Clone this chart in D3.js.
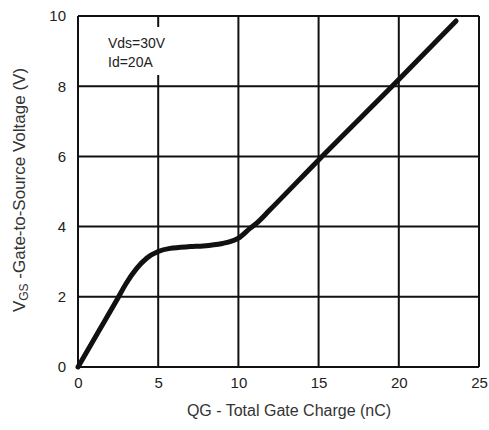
<!DOCTYPE html>
<html>
<head>
<meta charset="utf-8">
<script src="https://cdn.jsdelivr.net/npm/d3@7"></script>
<style>
  body { margin: 0; background: #fff; }
  text { font-family: "Liberation Sans", Arial, sans-serif; }
</style>
</head>
<body>
<div id="chart"></div>
<script>
// gate charge curve
var qg  = [0, 1.2, 2.41, 3.0, 3.66, 4.28, 5.0, 5.74, 7.0, 7.81, 9.0, 9.48, 10.0, 10.72, 11.14, 11.97, 15, 20, 23.57];
var vgs = [0, 0.95, 1.9, 2.38, 2.81, 3.10, 3.29, 3.38, 3.43, 3.45, 3.52, 3.57, 3.67, 3.95, 4.10, 4.48, 5.9, 8.19, 9.86];

var xTicks = [0, 5, 10, 15, 20, 25];
var yTicks = [0, 2, 4, 6, 8, 10];
var notes = ["Vds=30V", "Id=20A"];

var svgWidth = 489;
var svgHeight = 430;

var margin = { top: 16, right: 10, bottom: 63, left: 78 };
var width = 479 - margin.left;
var height = 367 - margin.top;

var svg = d3.select("#chart")
  .append("svg")
  .attr("width", svgWidth)
  .attr("height", svgHeight);

var chartGroup = svg.append("g")
  .attr("transform", `translate(${margin.left}, ${margin.top})`);

var xScale = d3.scaleLinear().domain([0, 25]).range([0, width]);
var yScale = d3.scaleLinear().domain([0, 10]).range([height, 0]);

// grid
chartGroup.selectAll(".vgrid")
  .data(xTicks)
  .enter()
  .append("line")
  .attr("x1", d => xScale(d))
  .attr("x2", d => xScale(d))
  .attr("y1", 0)
  .attr("y2", height)
  .style("stroke", "#111")
  .style("stroke-width", 2);

chartGroup.selectAll(".hgrid")
  .data(yTicks)
  .enter()
  .append("line")
  .attr("x1", 0)
  .attr("x2", width)
  .attr("y1", d => yScale(d))
  .attr("y2", d => yScale(d))
  .style("stroke", "#111")
  .style("stroke-width", 2);

// axes (labels only)
var bottomAxis = d3.axisBottom(xScale).tickValues(xTicks).tickSize(0).tickPadding(10);
var leftAxis = d3.axisLeft(yScale).tickValues(yTicks).tickSize(0).tickPadding(12);

var xAxis = chartGroup.append("g")
  .attr("transform", `translate(0, ${height})`)
  .call(bottomAxis);

var yAxis = chartGroup.append("g")
  .call(leftAxis);

[xAxis, yAxis].forEach(function(a) {
  a.select(".domain").remove();
  a.selectAll("text")
    .style("font-family", "'Liberation Sans', Arial, sans-serif")
    .style("font-size", "15px")
    .style("fill", "#222");
});

// annotation box
chartGroup.append("rect")
  .attr("x", 27)
  .attr("y", 11)
  .attr("width", 70)
  .attr("height", 48)
  .style("fill", "#fff");

chartGroup.selectAll(".note")
  .data(notes)
  .enter()
  .append("text")
  .attr("x", 30)
  .attr("y", (d, i) => 32 + i * 19)
  .style("font-size", "14px")
  .style("fill", "#222")
  .text(d => d);

// curve
var line = d3.line()
  .x(d => xScale(d[0]))
  .y(d => yScale(d[1]))
  .curve(d3.curveMonotoneX);

chartGroup.append("path")
  .datum(qg.map((q, i) => [q, vgs[i]]))
  .attr("d", line)
  .style("fill", "none")
  .style("stroke", "#111")
  .style("stroke-width", 5)
  .style("stroke-linecap", "round");

// axis titles
var yLabel = svg.append("text")
  .attr("transform", `translate(25, 190) rotate(-90)`)
  .style("text-anchor", "middle")
  .style("font-size", "17px")
  .style("fill", "#333");
yLabel.append("tspan").text("V");
yLabel.append("tspan").attr("dy", 3).style("font-size", "12px").text("GS");
yLabel.append("tspan").attr("dy", -3).text(" -Gate-to-Source Voltage (V)");

svg.append("text")
  .attr("x", 289)
  .attr("y", 416)
  .style("text-anchor", "middle")
  .style("font-size", "16px")
  .style("fill", "#333")
  .text("QG - Total Gate Charge (nC)");
</script>
</body>
</html>
